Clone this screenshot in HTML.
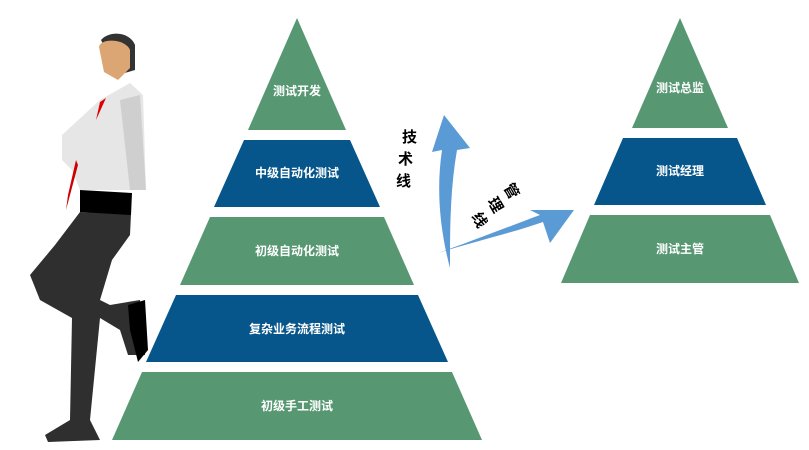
<!DOCTYPE html>
<html><head><meta charset="utf-8"><style>
html,body{margin:0;padding:0;background:#fff;width:809px;height:450px;overflow:hidden}
text{font-family:"Liberation Sans","Noto Sans CJK SC",sans-serif}
</style></head><body>
<svg width="809" height="450" viewBox="0 0 809 450" xmlns="http://www.w3.org/2000/svg">
<g fill="#579873">
<polygon points="297,18 346,130 248,130"/>
<polygon points="210,217 384,217 414,285 180,285"/>
<polygon points="142,372 452,372 482,440 112,440"/>
<polygon points="680,18 728,128 632,128"/>
<polygon points="590,215 770,215 799,283 561,283"/>
</g>
<g fill="#06568b">
<polygon points="244,140 350,140 380,207 214,207"/>
<polygon points="176,295 418,295 448,362 146,362"/>
<polygon points="623,138 737,138 766,205 594,205"/>
</g>
<g fill="#fff" font-size="12" font-weight="bold" text-anchor="middle">
<text x="297" y="95">测试开发</text>
<text x="297" y="177">中级自动化测试</text>
<text x="297" y="255">初级自动化测试</text>
<text x="297" y="333">复杂业务流程测试</text>
<text x="297" y="410">初级手工测试</text>
<text x="680" y="92">测试总监</text>
<text x="680" y="175">测试经理</text>
<text x="680" y="253">测试主管</text>
</g>
<g fill="#5b9bd5">
<path d="M450,268 C440,230 436,190 442,150 L432,152 L444,115 L470,148 L457,150 C450,190 450,230 450,268 Z"/>
<path d="M438,253 C480,240 515,232 543,222 L550,243 L574,210 L530,210 L540,215 C505,228 475,240 438,253 Z"/>
</g>
<g font-size="15" font-weight="bold" fill="#000" style="font-family:'Noto Serif CJK SC',serif">
<text x="402" y="142">技</text>
<text x="398" y="164">术</text>
<text x="396" y="186">线</text>
<text x="505" y="196" transform="rotate(60 512 190)">管</text>
<text x="489" y="210" transform="rotate(60 496 204)">理</text>
<text x="473" y="225" transform="rotate(60 480 219)">线</text>
</g>
<g>
<path d="M101,40 C110,30 130,32 135,45 L135,70 L118,75 Z" fill="#333"/>
<path d="M99,47 C100,38 125,38 130,50 L130,68 L118,80 L104,72 Z" fill="#dca674"/>
<path d="M100,100 L130,83 L143,95 L146,190 L80,190 L72,170 L62,160 L62,135 Z" fill="#e6e6e6"/>
<path d="M120,100 L140,95 L146,190 L130,190 Z" fill="#cfcfcf"/>
<path d="M100,102 L106,98 L96,120 Z" fill="#d00"/>
<path d="M76,160 L68,195 L66,210 L78,165 Z" fill="#c00"/>
<path d="M80,212 L131,214 L130,235 L112,260 L100,300 L110,305 L140,300 L145,355 L128,355 L120,330 L100,318 L90,420 L100,440 L48,442 L45,435 L70,420 L72,318 L40,300 L30,275 L55,245 Z" fill="#2f2f2f"/>
<path d="M80,190 L132,193 L131,215 L80,212 Z" fill="#000"/>
<path d="M128,305 L145,300 L148,350 L138,362 L130,330 Z" fill="#000"/>
</g>
</svg>
</body></html>
